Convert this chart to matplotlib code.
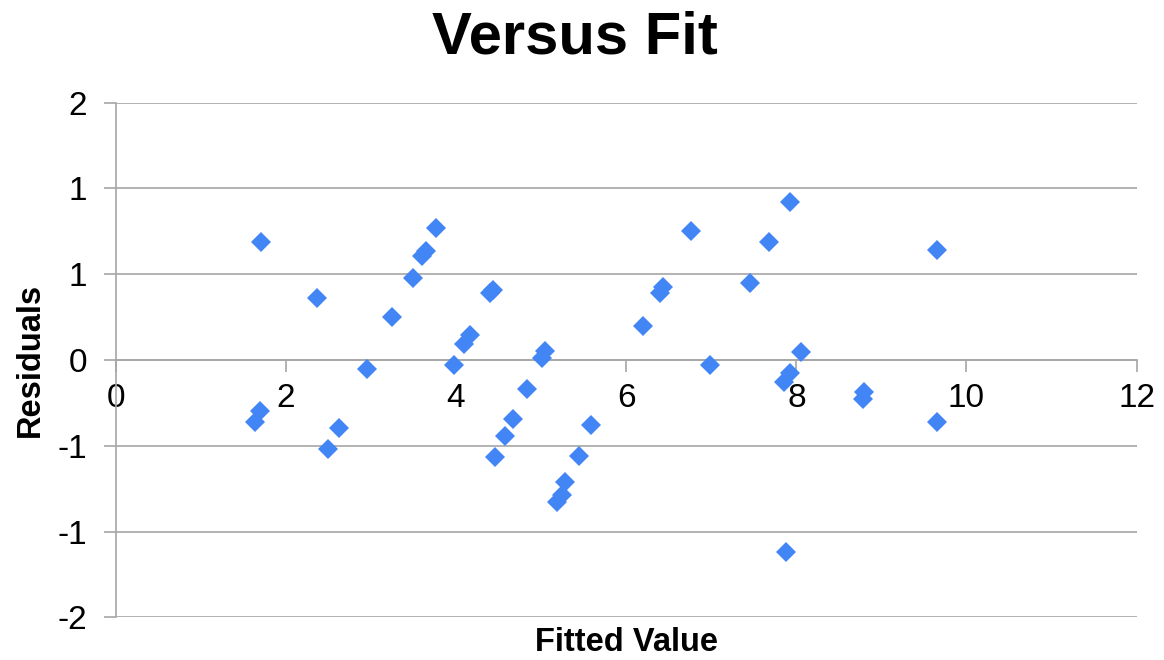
import numpy as np
import matplotlib
matplotlib.use('Agg')
import matplotlib.pyplot as plt

plt.rcParams['font.family'] = ['Liberation Sans', 'DejaVu Sans']

# fitted values and residuals
fitted = [1.71, 1.70, 1.64, 2.37, 2.49, 2.62, 2.95, 3.25, 3.49, 3.60, 3.65,
          3.77, 3.98, 4.09, 4.16, 4.40, 4.44, 4.46, 4.57, 4.67, 4.83, 5.01,
          5.05, 5.19, 5.24, 5.28, 5.44, 5.59, 6.20, 6.40, 6.43, 6.76, 6.98,
          7.45, 7.68, 7.92, 8.05, 7.92, 7.85, 7.88, 8.80, 8.78, 9.65, 9.65]
residuals = [0.919, -0.394, -0.484, 0.479, -0.694, -0.526, -0.070, 0.332,
             0.635, 0.808, 0.849, 1.028, -0.041, 0.122, 0.192, 0.518, 0.544,
             -0.751, -0.591, -0.456, -0.228, 0.013, 0.072, -1.101, -1.049,
             -0.946, -0.746, -0.508, 0.264, 0.518, 0.565, 1.002, -0.041,
             0.596, 0.919, 1.225, 0.060, -0.100, -0.170, -1.489, -0.246,
             -0.306, 0.855, -0.479]

x_ticks = [0, 2, 4, 6, 8, 10, 12]
y_ticks = np.linspace(-2, 2, 7)

fig = plt.figure(figsize=(11.64, 6.6), dpi=100)
ax = fig.add_axes([0.0994, 0.0645, 0.8771, 0.78])

grid_col = '#a6a6a6'
for yt in y_ticks:
    ax.axhline(yt, color=grid_col, lw=1.2, zorder=1)

ax.plot(fitted, residuals, ls='none', marker='D', markersize=10.5,
        color='#4285F4', markeredgewidth=0, zorder=3)

ax.set_xlim(0, 12)
ax.set_ylim(-2, 2)
ax.set_xticks(x_ticks)
ax.set_xticklabels([str(v) for v in x_ticks])
ax.set_yticks(y_ticks)
ax.set_yticklabels(['%.0f' % v for v in y_ticks])

ax.spines['top'].set_visible(False)
ax.spines['right'].set_visible(False)
ax.spines['bottom'].set_position(('data', 0))
ax.spines['bottom'].set_color(grid_col)
ax.spines['left'].set_color(grid_col)
ax.spines['bottom'].set_linewidth(1.2)
ax.spines['left'].set_linewidth(1.2)

ax.tick_params(axis='x', direction='out', length=8.5, width=1.2,
               color=grid_col, labelsize=24, pad=8)
ax.tick_params(axis='y', direction='out', length=8.5, width=1.2,
               color=grid_col, labelsize=24, pad=12)

ax.set_xlabel('Fitted Value', fontsize=23.5, fontweight='bold')
ax.xaxis.set_label_coords(0.5, -0.048)
ax.xaxis.label.set_va('center')
ax.set_ylabel('Residuals', fontsize=23.5, fontweight='bold')
ax.yaxis.set_label_coords(-0.084, 0.5)
ax.yaxis.label.set_va('center')

fig.text(575 / 1164, 1 - 38 / 660, 'Versus Fit', ha='center', va='center',
         fontsize=43, fontweight='bold')

fig.savefig('out.png', dpi=100)
